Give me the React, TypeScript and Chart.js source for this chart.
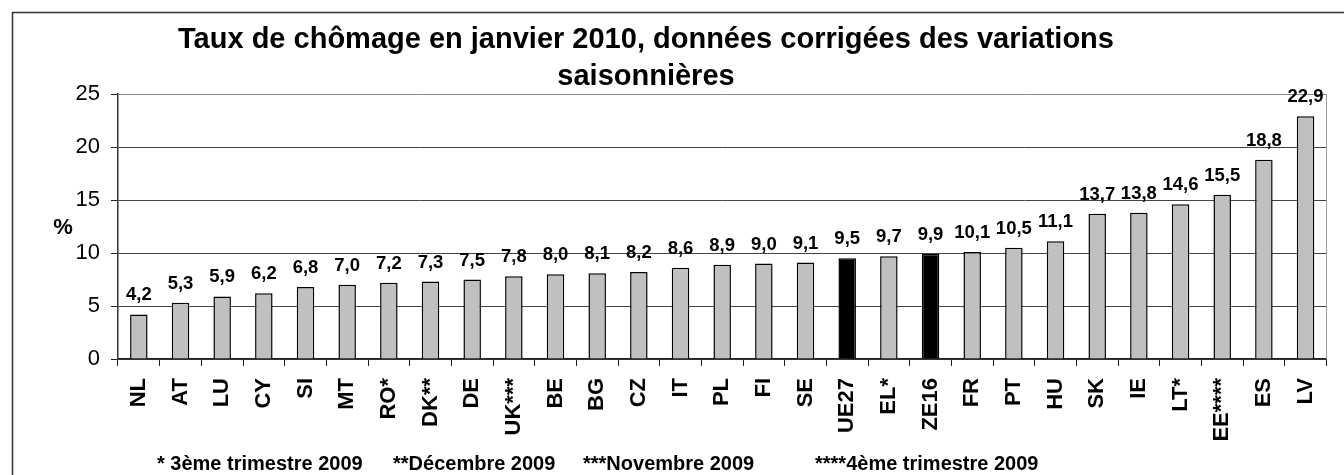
import React, { useEffect, useRef } from "react";
import { Chart, registerables } from "chart.js";

Chart.register(...registerables);

const categories = ["NL","AT","LU","CY","SI","MT","RO*","DK**","DE","UK***","BE","BG","CZ","IT","PL","FI","SE","UE27","EL*","ZE16","FR","PT","HU","SK","IE","LT*","EE****","ES","LV"];
const values = [4.2,5.3,5.9,6.2,6.8,7.0,7.2,7.3,7.5,7.8,8.0,8.1,8.2,8.6,8.9,9.0,9.1,9.5,9.7,9.9,10.1,10.5,11.1,13.7,13.8,14.6,15.5,18.8,22.9];
const highlighted = ["UE27", "ZE16"];
const yTicks = [0, 5, 10, 15, 20, 25];
const titleLines = ["Taux de chômage en janvier 2010, données corrigées des variations", "saisonnières"];
const yAxisLabel = "%";
const footnotes = ["* 3ème trimestre 2009", "**Décembre 2009", "***Novembre 2009", "****4ème trimestre 2009"];
const footnoteX = [157, 393, 583, 815];

const FONT = "'Liberation Sans', Arial, sans-serif";

const decorPlugin = {
  id: "decor",
  beforeDraw(chart: any) {
    const ctx = chart.ctx;
    ctx.save();
    ctx.fillStyle = "#fff";
    ctx.fillRect(0, 0, chart.width, chart.height);
    ctx.strokeStyle = "#333";
    ctx.lineWidth = 1.5;
    ctx.strokeRect(12.5, 12.5, chart.width + 50, chart.height + 50);
    ctx.restore();
  },
  afterDraw(chart: any) {
    const ctx = chart.ctx;
    const area = chart.chartArea;
    ctx.save();
    ctx.strokeStyle = "#999";
    ctx.lineWidth = 1;
    ctx.beginPath();
    ctx.moveTo(Math.round(area.right) + 0.5, area.top);
    ctx.lineTo(Math.round(area.right) + 0.5, area.bottom);
    ctx.stroke();
    // title
    ctx.fillStyle = "#000";
    ctx.textAlign = "center";
    ctx.textBaseline = "alphabetic";
    ctx.font = `bold 29px ${FONT}`;
    ctx.fillText(titleLines[0], 646, 48);
    ctx.fillText(titleLines[1], 646, 85);
    // y label
    ctx.font = `bold 22px ${FONT}`;
    ctx.textBaseline = "middle";
    ctx.fillText(yAxisLabel, 63, 228);
    // footnotes
    ctx.font = `bold 20px ${FONT}`;
    ctx.textAlign = "left";
    ctx.textBaseline = "alphabetic";
    footnotes.forEach((t, i) => ctx.fillText(t, footnoteX[i], 470));
    // data labels
    const meta = chart.getDatasetMeta(0);
    ctx.font = `bold 18.5px ${FONT}`;
    ctx.textAlign = "center";
    ctx.textBaseline = "alphabetic";
    meta.data.forEach((bar: any, i: number) => {
      const txt = values[i].toFixed(1).replace(".", ",");
      ctx.fillText(txt, bar.x, bar.y - 14);
    });
    ctx.restore();
  },
};

export default function App() {
  const ref = useRef<HTMLCanvasElement>(null);
  useEffect(() => {
    if (!ref.current) return;
    const chart = new Chart(ref.current, {
      type: "bar",
      data: {
        labels: categories,
        datasets: [
          {
            data: values,
            backgroundColor: categories.map((c) => (highlighted.includes(c) ? "#000" : "#c0c0c0")),
            borderColor: "#000",
            borderWidth: 1.5,
            categoryPercentage: 1,
            barPercentage: 0.42,
          },
        ],
      },
      options: {
        responsive: false,
        animation: false,
        layout: { padding: { top: 94, right: 3, left: 0, bottom: 0 } },
        plugins: { legend: { display: false }, tooltip: { enabled: false }, title: { display: false } },
        scales: {
          x: {
            offset: true,
            grid: {
              display: true,
              drawOnChartArea: false,
              drawTicks: true,
              tickLength: 7,
              offset: true,
              color: "#222",
              lineWidth: 1,
            },
            border: { display: true, color: "#222", width: 1.5 },
            ticks: {
              autoSkip: false,
              maxRotation: 90,
              minRotation: 90,
              padding: 12,
              color: "#000",
              font: { family: FONT, size: 22, weight: "bold" },
            },
            afterFit: (scale: any) => {
              scale.height = 475 - 359;
            },
          },
          y: {
            min: 0,
            max: 25,
            afterBuildTicks: (scale: any) => {
              scale.ticks = yTicks.map((v) => ({ value: v }));
            },
            grid: {
              color: (c: any) => (c.tick && c.tick.value === 25 ? "#888" : "#444"),
              tickColor: "#222",
              tickLength: 7,
              lineWidth: 1,
            },
            border: { display: true, color: "#333", width: 1.5 },
            ticks: {
              padding: 11,
              color: "#000",
              font: { family: FONT, size: 22 },
            },
            afterFit: (scale: any) => {
              scale.width = 118;
            },
          },
        },
      },
      plugins: [decorPlugin],
    });
    return () => chart.destroy();
  }, []);
  return (
    <div style={{ position: "fixed", left: 0, top: 0, width: 1344, height: 475 }}>
      <canvas ref={ref} width={1344} height={475} />
    </div>
  );
}
